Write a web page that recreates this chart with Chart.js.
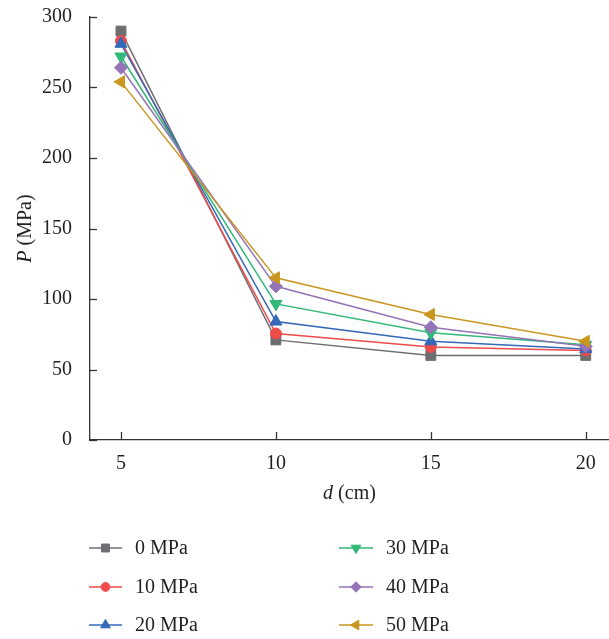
<!DOCTYPE html>
<html>
<head>
<meta charset="utf-8">
<script src="https://cdn.jsdelivr.net/npm/chart.js@4/dist/chart.umd.min.js"></script>
<style>
  html, body { margin: 0; padding: 0; background: #fff; }
  #wrap { width: 609px; height: 639px; position: relative; }
</style>
</head>
<body>
<div id="wrap"><canvas id="chart" width="609" height="639"></canvas></div>
<script>
// d (cm) on the x axis
const distances = [5, 10, 15, 20];
const yTicks = [0, 50, 100, 150, 200, 250, 300];

// P (MPa) for each confining pressure
const p0 = [290, 71, 60, 60];
const p10 = [283, 75.5, 66, 63.5];
const p20 = [281, 84, 70, 64.5];
const p30 = [272, 96.5, 76, 67.5];
const p40 = [264, 109, 80, 66.5];
const p50 = [254, 115, 89, 70];

const seriesNames = ["0 MPa", "10 MPa", "20 MPa", "30 MPa", "40 MPa", "50 MPa"];
const seriesValues = [p0, p10, p20, p30, p40, p50];
const colors = ["#6d6e71", "#ee4b4b", "#3468b8", "#32b878", "#9473b8", "#c9961f"];
const markers = [
  { style: "rect", radius: 7, rotation: 0 },
  { style: "circle", radius: 5.5, rotation: 0 },
  { style: "triangle", radius: 7, rotation: 0 },
  { style: "triangle", radius: 7, rotation: 180 },
  { style: "rectRot", radius: 6.5, rotation: 0 },
  { style: "triangle", radius: 7, rotation: -90 },
];

const FONT = "'Liberation Serif', 'DejaVu Serif', serif";
const INK = "#231f20";

const datasets = seriesValues.map((vals, i) => ({
  label: seriesNames[i],
  data: distances.map((d, j) => ({ x: d, y: vals[j] })),
  borderColor: colors[i],
  backgroundColor: colors[i],
  borderWidth: 1.5,
  pointStyle: markers[i].style,
  pointRadius: markers[i].radius,
  pointRotation: markers[i].rotation,
  pointBorderWidth: 1,
  pointBorderColor: colors[i],
  pointBackgroundColor: colors[i],
  order: seriesNames.length - i,
  tension: 0,
}));

// inward tick marks, axis titles with italic symbols, two-column legend
const extras = {
  id: "extras",
  afterDraw(chart) {
    const ctx = chart.ctx;
    const xs = chart.scales.x;
    const ys = chart.scales.y;
    const area = chart.chartArea;
    ctx.save();
    ctx.strokeStyle = "#333";
    ctx.lineWidth = 1.3;
    distances.forEach((d) => {
      const px = Math.round(xs.getPixelForValue(d)) + 0.5;
      ctx.beginPath();
      ctx.moveTo(px, area.bottom);
      ctx.lineTo(px, area.bottom - 8);
      ctx.stroke();
    });
    yTicks.forEach((v) => {
      const py = Math.round(ys.getPixelForValue(v)) + 0.5;
      ctx.beginPath();
      ctx.moveTo(area.left, py);
      ctx.lineTo(area.left + 7, py);
      ctx.stroke();
    });

    // axis titles
    ctx.fillStyle = INK;
    ctx.textBaseline = "middle";
    const drawTitle = (sym, rest, cx, cy, rot) => {
      ctx.save();
      ctx.translate(cx, cy);
      ctx.rotate(rot);
      ctx.font = "italic 20px " + FONT;
      const w1 = ctx.measureText(sym).width;
      ctx.font = "20px " + FONT;
      const w2 = ctx.measureText(rest).width;
      const start = -(w1 + w2) / 2;
      ctx.textAlign = "left";
      ctx.font = "italic 20px " + FONT;
      ctx.fillText(sym, start, 0);
      ctx.font = "20px " + FONT;
      ctx.fillText(rest, start + w1, 0);
      ctx.restore();
    };
    drawTitle("P", " (MPa)", 26, (area.top + area.bottom) / 2, -Math.PI / 2);
    drawTitle("d", " (cm)", (area.left + area.right) / 2, 494, 0);

    // legend
    const cols = [{ line0: 89, line1: 122, text: 135 }, { line0: 339, line1: 373, text: 386 }];
    const rows = [548, 587, 625];
    seriesNames.forEach((name, i) => {
      const c = cols[Math.floor(i / 3)];
      const y = rows[i % 3];
      ctx.strokeStyle = colors[i];
      ctx.lineWidth = 1.5;
      ctx.beginPath();
      ctx.moveTo(c.line0, y);
      ctx.lineTo(c.line1, y);
      ctx.stroke();
      ctx.fillStyle = colors[i];
      ctx.strokeStyle = colors[i];
      ctx.lineWidth = 1;
      Chart.helpers.drawPoint(ctx, {
        pointStyle: markers[i].style,
        radius: markers[i].radius * 0.8,
        rotation: markers[i].rotation,
        borderWidth: 1,
      }, (c.line0 + c.line1) / 2, y);
      ctx.fillStyle = INK;
      ctx.font = "20px " + FONT;
      ctx.textAlign = "left";
      ctx.textBaseline = "middle";
      ctx.fillText(name, c.text, y + 1);
    });
    ctx.restore();
  },
};

new Chart(document.getElementById("chart"), {
  type: "line",
  data: { datasets },
  options: {
    responsive: false,
    animation: false,
    layout: { autoPadding: false, padding: { top: 17, right: 0, bottom: 0, left: 0 } },
    plugins: { legend: { display: false }, tooltip: { enabled: false } },
    scales: {
      x: {
        type: "linear",
        min: 4,
        max: 20.75,
        afterBuildTicks: (scale) => {
          scale.ticks = distances.map((v) => ({ value: v }));
        },
        afterFit: (scale) => {
          scale.height = 199;
          scale.paddingLeft = 0;
          scale.paddingRight = 0;
        },
        grid: { display: false },
        border: { display: true, color: "#333", width: 1.3 },
        ticks: { color: INK, padding: 4, font: { family: FONT, size: 20 }, maxRotation: 0 },
      },
      y: {
        min: 0,
        max: 300,
        afterBuildTicks: (scale) => {
          scale.ticks = yTicks.map((v) => ({ value: v }));
        },
        afterFit: (scale) => {
          scale.width = 90;
          scale.paddingTop = 0;
          scale.paddingBottom = 0;
        },
        grid: { display: false },
        border: { display: true, color: "#333", width: 1.3 },
        ticks: { color: INK, padding: 10, font: { family: FONT, size: 20 } },
      },
    },
  },
  plugins: [extras],
});
</script>
</body>
</html>
